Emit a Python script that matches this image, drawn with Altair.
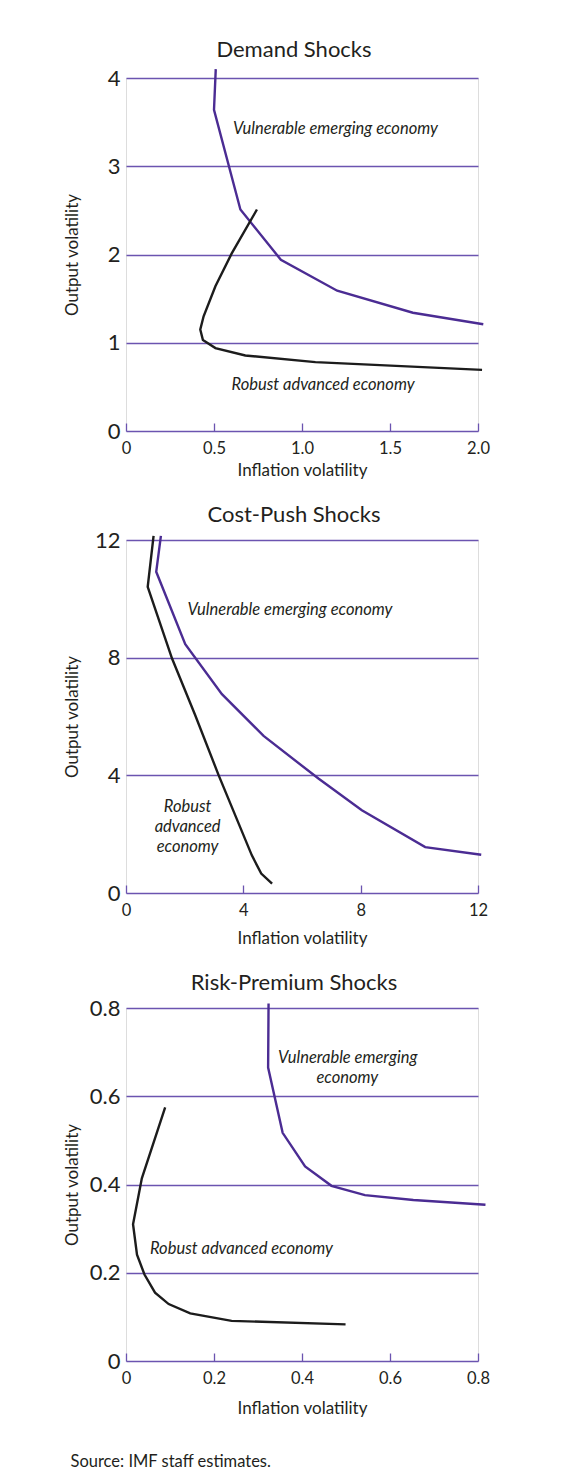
import altair as alt
import pandas as pd

# ---------------- data ----------------
# Demand shocks
d_vul_x = [0.51, 0.50, 0.65, 0.88, 1.20, 1.63, 2.03]
d_vul_y = [4.10, 3.64, 2.51, 1.94, 1.59, 1.34, 1.21]
d_rob_x = [0.744, 0.60, 0.508, 0.441, 0.422, 0.437, 0.508, 0.678, 1.076, 2.023]
d_rob_y = [2.51, 2.01, 1.64, 1.30, 1.15, 1.03, 0.94, 0.856, 0.78, 0.693]

# Cost-push shocks
c_vul_x = [1.19, 1.03, 2.02, 3.27, 4.69, 6.56, 8.04, 10.2, 12.11]
c_vul_y = [12.14, 10.92, 8.46, 6.76, 5.34, 3.89, 2.81, 1.56, 1.30]
c_rob_x = [0.94, 0.74, 1.57, 2.36, 3.16, 4.29, 4.61, 4.98]
c_rob_y = [12.14, 10.41, 7.97, 6.04, 4.00, 1.28, 0.66, 0.32]

# Risk-premium shocks
r_vul_x = [0.324, 0.323, 0.356, 0.407, 0.467, 0.543, 0.653, 0.817]
r_vul_y = [0.810, 0.665, 0.517, 0.441, 0.397, 0.376, 0.365, 0.354]
r_rob_x = [0.089, 0.036, 0.016, 0.025, 0.042, 0.066, 0.097, 0.146, 0.240, 0.499]
r_rob_y = [0.575, 0.414, 0.310, 0.241, 0.196, 0.155, 0.129, 0.108, 0.091, 0.083]

# tick values
d_xticks = [0, 0.5, 1.0, 1.5, 2.0]
d_yticks = [0, 1, 2, 3, 4]
c_xticks = [0, 4, 8, 12]
c_yticks = [0, 4, 8, 12]
r_xticks = [0, 0.2, 0.4, 0.6, 0.8]
r_yticks = [0, 0.2, 0.4, 0.6, 0.8]

# curve labels (text, x, y in data units)
d_labels_text = ["Vulnerable emerging economy", "Robust advanced economy"]
d_labels_x = [1.19, 1.12]
d_labels_y = [3.42, 0.52]
c_labels_text = ["Vulnerable emerging economy", "Robust", "advanced", "economy"]
c_labels_x = [5.59, 2.10, 2.10, 2.10]
c_labels_y = [9.61, 2.94, 2.26, 1.58]
r_labels_text = ["Vulnerable emerging", "economy", "Robust advanced economy"]
r_labels_x = [0.504, 0.503, 0.2625]
r_labels_y = [0.686, 0.641, 0.254]

# ---------------- styling ----------------
PURPLE = "#4b2c93"
GRID = "#6b54b0"
BLACK = "#1c1c1c"
TEXT = "#231f20"
FONT = "Lato"
W, H = 352, 353

DEC = "datum.value == 0 ? '0' : format(datum.value, '.1f')"
INT = "format(datum.value, 'd')"


def panel(title, vx, vy, rx, ry, lt, lx, ly, xticks, yticks, xfmt, yfmt,
          xtitle_y, title_offset):
    vul = pd.DataFrame({"x": vx, "y": vy, "i": list(range(len(vx)))})
    rob = pd.DataFrame({"x": rx, "y": ry, "i": list(range(len(rx)))})
    lab = pd.DataFrame({"t": lt, "x": lx, "y": ly})
    xscale = alt.Scale(domain=[xticks[0], xticks[-1]], nice=False)
    yscale = alt.Scale(domain=[yticks[0], yticks[-1]], nice=False)

    x_bottom = alt.Axis(
        orient="bottom", values=xticks, labelExpr=xfmt, labelFont=FONT,
        labelFontSize=16.5, labelColor=TEXT, labelPadding=9, labelFlush=False,
        ticks=False, domain=False, grid=False,
        title="Inflation volatility", titleFont=FONT, titleFontSize=17,
        titleFontWeight="normal", titleColor=TEXT, titleY=xtitle_y,
        titleBaseline="middle")
    x_top = alt.Axis(
        orient="top", offset=-H, values=xticks, labels=False, ticks=True,
        tickSize=8, tickColor=GRID, tickWidth=1.3, domain=False, grid=False)
    y_axis = alt.Axis(
        values=yticks, labelExpr=yfmt, labelFont=FONT, labelFontSize=22,
        labelColor=TEXT, labelPadding=6, ticks=False, domain=False,
        grid=True, gridColor=GRID, gridWidth=1.3,
        title="Output volatility", titleFont=FONT, titleFontSize=17,
        titleFontWeight="normal", titleColor=TEXT, titleX=-54,
        titleBaseline="middle")

    vline = alt.Chart(vul).mark_line(color=PURPLE, strokeWidth=2.4).encode(
        x=alt.X("x:Q", scale=xscale, axis=x_bottom),
        y=alt.Y("y:Q", scale=yscale, axis=y_axis),
        order="i:Q",
    )
    rline = alt.Chart(rob).mark_line(color=BLACK, strokeWidth=2.4).encode(
        x=alt.X("x:Q", scale=xscale, axis=x_top, title=None),
        y=alt.Y("y:Q", scale=yscale, axis=None),
        order="i:Q",
    )
    text = alt.Chart(lab).mark_text(
        font=FONT, fontSize=16.5, fontStyle="italic", color=TEXT,
        align="center", baseline="middle").encode(
        x=alt.X("x:Q", scale=xscale, axis=None),
        y=alt.Y("y:Q", scale=yscale, axis=None),
        text="t:N",
    )
    return alt.layer(vline, rline, text).resolve_axis(
        x="independent", y="independent").properties(
        width=W, height=H,
        title=alt.TitleParams(title, font=FONT, fontSize=22,
                              fontWeight="normal", color=TEXT,
                              offset=title_offset, dx=-8))


p1 = panel("Demand Shocks", d_vul_x, d_vul_y, d_rob_x, d_rob_y,
           d_labels_text, d_labels_x, d_labels_y, d_xticks, d_yticks,
           DEC, INT, 39, 2)
p2 = panel("Cost-Push Shocks", c_vul_x, c_vul_y, c_rob_x, c_rob_y,
           c_labels_text, c_labels_x, c_labels_y, c_xticks, c_yticks,
           INT, INT, 45, 2)
p3 = panel("Risk-Premium Shocks", r_vul_x, r_vul_y, r_rob_x, r_rob_y,
           r_labels_text, r_labels_x, r_labels_y, r_xticks, r_yticks,
           DEC, DEC, 47, 2)

chart = alt.vconcat(p1, p2, p3, spacing=24).properties(
    title=alt.TitleParams("Source: IMF staff estimates.", orient="bottom",
                          anchor="start", font=FONT, fontSize=16.5,
                          fontWeight="normal", color=TEXT, offset=37, dx=8),
    padding={"left": 54, "top": 30, "right": 5, "bottom": 2},
).configure_view(stroke=None).configure(background="white")

chart.save("out.html", embed_options={"renderer": "svg", "actions": False})
